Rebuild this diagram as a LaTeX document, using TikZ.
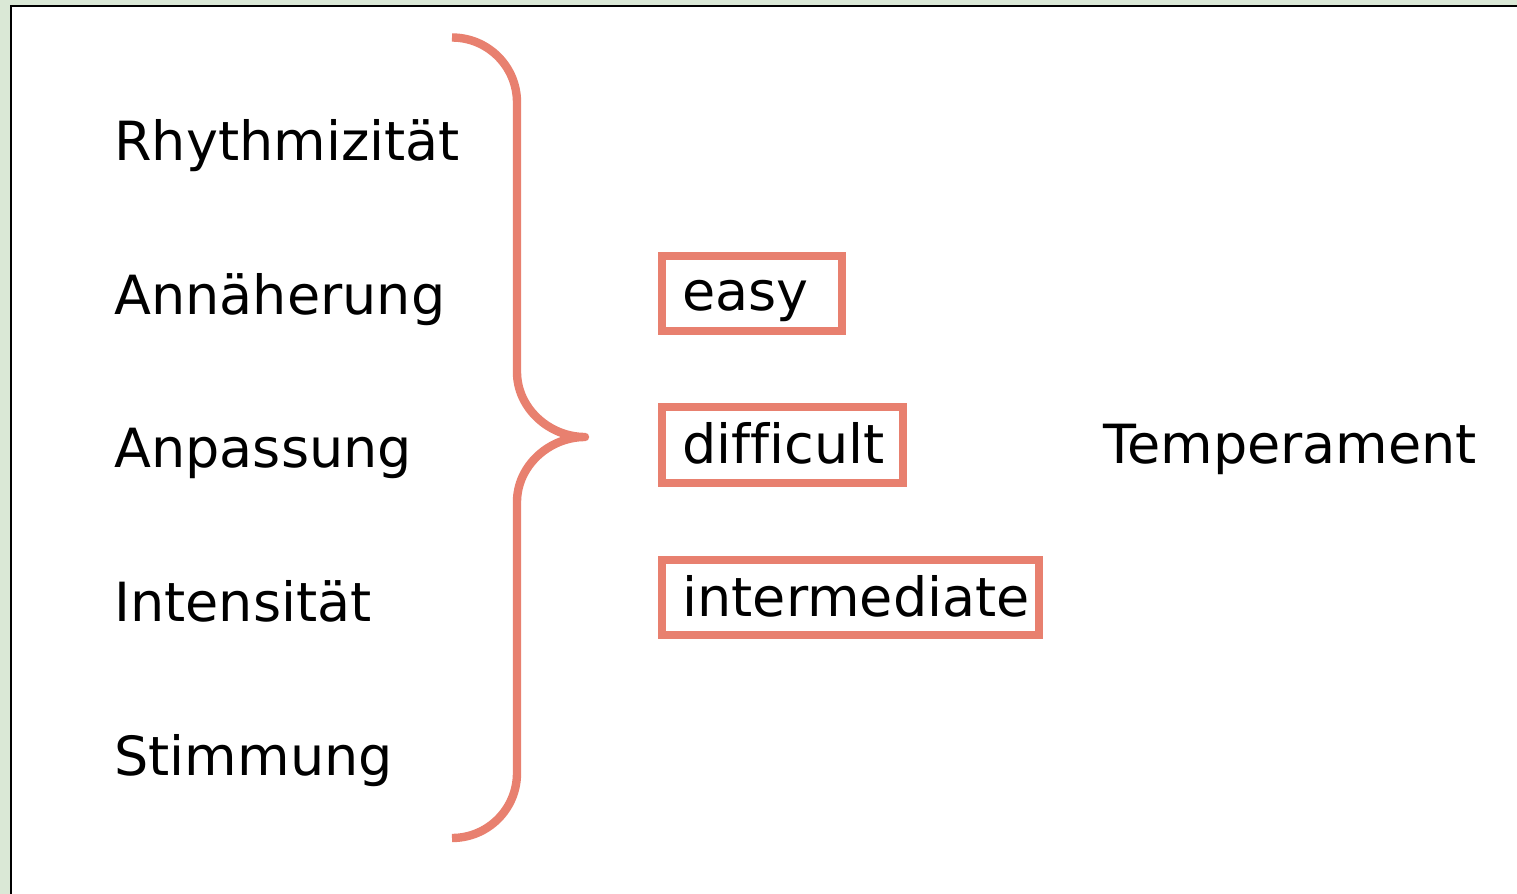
\documentclass[tikz,border=0pt]{standalone}
\usepackage{fontspec}
\setmainfont{DejaVu Sans}[Ligatures=NoCommon]
\definecolor{pagegreen}{HTML}{DAE8D6}
\definecolor{salmon}{HTML}{E8806F}
\begin{document}
\begin{tikzpicture}[x=0.5pt,y=-0.5pt,
  word/.style={inner sep=0pt, anchor=base west, font=\fontsize{27pt}{30pt}\selectfont},
  tbox/.style={draw=salmon, line width=4pt, inner sep=0pt, outer sep=0pt, anchor=north west},
  brace/.style={draw=salmon, line width=4.2pt, line cap=butt, line join=round}]
  \useasboundingbox (0,0) rectangle (1517,894);
  % page background and framed white panel
  \fill[pagegreen] (0,0) rectangle (1517,894);
  \fill[white] (11,6) rectangle (1530,900);
  \draw[black, line width=1.2pt] (11,910) -- (11,6) -- (1530,6);

  % temperament dimensions
  \node[word] (rhy) at (114,160) {Rhythmizität};
  \node[word] (ann) at (114,314) {Annäherung};
  \node[word] (anp) at (114,467) {Anpassung};
  \node[word] (int) at (114,621) {Intensität};
  \node[word] (sti) at (114,775) {Stimmung};

  % curly brace gathering the dimensions
  \coordinate (btop) at (452,37.5);
  \coordinate (btip) at (585,437);
  \coordinate (bbot) at (452,838);
  \draw[brace] (btop) .. controls (488,37.5) and (517,66.5) .. (517,102.5)
    -- (517,372) .. controls (517,408) and (549,437) .. (btip)
    .. controls (549,437) and (517,466) .. (517,502)
    -- (517,773) .. controls (517,809) and (488,838) .. (bbot);

  % temperament types
  \node[tbox, minimum width=90.3pt, minimum height=37.5pt] (easybox) at (661.7,256) {};
  \node[word] (easy) at (682,310) {easy};
  \node[tbox, minimum width=120.6pt, minimum height=38pt] (diffbox) at (662,407) {};
  \node[word] (diff) at (682,463) {difficult};
  \node[tbox, minimum width=188.5pt, minimum height=37.5pt] (intbox) at (662,560) {};
  \node[word] (inter) at (682,616) {intermediate};

  \node[word] (temp) at (1103,463) {Temperament};
\end{tikzpicture}
\end{document}
